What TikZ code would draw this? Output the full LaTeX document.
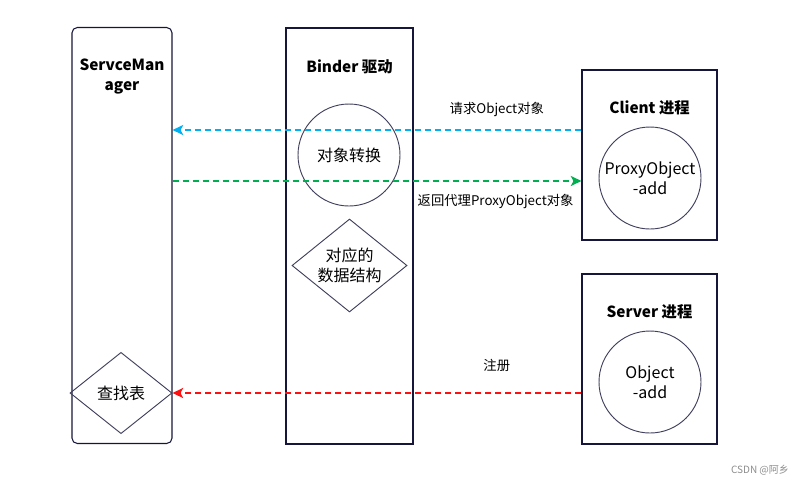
\documentclass[tikz,border=0pt]{standalone}
\usepackage{fontspec}
\setmainfont{Noto Sans CJK SC}
\usepackage{tikz}
\usetikzlibrary{shapes.geometric,positioning,arrows.meta}
\definecolor{boxline}{HTML}{16163A}
\definecolor{shapeline}{HTML}{40405E}
\definecolor{reqblue}{HTML}{00B0F0}
\definecolor{retgreen}{HTML}{00B050}
\definecolor{regred}{HTML}{FF1010}
\tikzstyle{process} = [draw=boxline, line width=0.8pt, rectangle, minimum width=101.25pt, minimum height=127.5pt]
\tikzstyle{column} = [draw=boxline, line width=0.8pt, rectangle, minimum height=312pt]
\tikzstyle{title} = [font=\fontsize{11.5}{15}\selectfont\bfseries, align=center]
\tikzstyle{ball} = [draw=shapeline, line width=0.7pt, circle, minimum size=76.5pt, inner sep=0pt, align=center, font=\fontsize{12}{15}\selectfont]
\tikzstyle{rhombus} = [draw=shapeline, line width=0.7pt, diamond, inner sep=0pt, align=center, font=\fontsize{12}{15.5}\selectfont]
\tikzstyle{msg} = [font=\fontsize{10}{12}\selectfont]
\tikzstyle{flow} = [-{Stealth[length=8pt, width=7.5pt, inset=2pt]}, line width=1.5pt, dash pattern=on 4.5pt off 3pt]

\begin{document}
\begin{tikzpicture}[x=0.75pt, y=-0.75pt]
    \useasboundingbox (0,0) rectangle (796,487);

    % processes and driver
    \node [column, rounded corners=4pt, minimum width=75pt] (sm) at (122,235.5) {};
    \node [column, minimum width=95.25pt] (binder) at (349.5,236) {};
    \node [process] (client) at (649.5,155) {};
    \node [process] (server) at (649.5,359) {};

    \node [title] (smtitle) at (122,77) {ServceMan\\ager};
    \node [title] (bindertitle) at (349.5,67) {Binder 驱动};
    \node [title] (clienttitle) at (649.5,108) {Client 进程};
    \node [title] (servertitle) at (649.5,312) {Server 进程};

    % inner parts
    \node [ball] (convert) at (349,155) {对象转换};
    \node [rhombus, shape aspect=1.24, minimum width=86.25pt, minimum height=69.75pt] (datastruct) at (349.5,265.5) {对应的\\数据结构};
    \node [rhombus, shape aspect=1.25, minimum width=76.5pt, minimum height=61pt] (lookup) at (121,393) {查找表};
    \node [ball] (proxy) at (650,178) {ProxyObject\\-add};
    \node [ball] (obj) at (650,382) {Object\\-add};

    % messages
    \draw [flow, reqblue] (client.west |- 0,130) -- node [msg, pos=0.207, above=6pt, black] (req) {请求Object对象} (sm.east |- 0,130);
    \draw [flow, retgreen] (sm.east |- 0,181) -- node [msg, pos=0.79, below=6pt, black] (ret) {返回代理ProxyObject对象} (client.west |- 0,181);
    \draw [flow, regred] (server.west |- lookup.east) -- node [msg, pos=0.207, above=12pt, black] (reg) {注册} (lookup.east);

    \node [font=\fontsize{7.5}{9}\selectfont, text=black!45] (mark) at (760,470) {CSDN @阿乡};
\end{tikzpicture}
\end{document}
